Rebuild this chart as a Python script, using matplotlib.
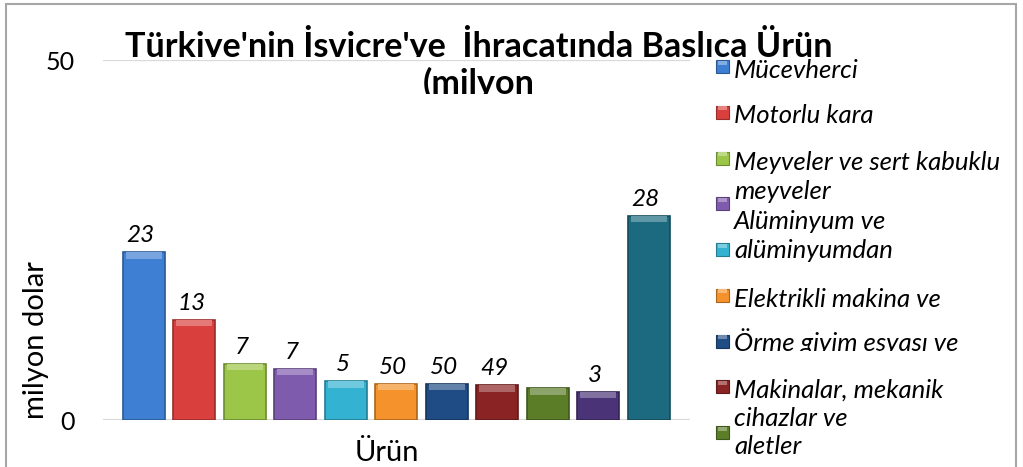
import numpy as np
import matplotlib
matplotlib.use("Agg")
import matplotlib.pyplot as plt
from matplotlib.patches import Rectangle
from matplotlib.transforms import Bbox, TransformedBbox
import matplotlib.colors as mcolors

# ---------------- data ----------------
values = [23.3, 13.9, 7.8, 7.1, 5.4, 5.05, 5.05, 4.8, 4.4, 3.9, 28.4]
value_labels = ["23", "13", "7", "7", "5", "50", "50", "49", "", "3", "28"]
bar_colors = ["#3E7FD3", "#D9403D", "#9CC647", "#7F5BAE", "#34B2D2", "#F5922B",
              "#1F4C85", "#8A2323", "#5B7D28", "#4A3477", "#1C6A80"]
y_ticks = [0, 50]
y_label = "milyon dolar"
x_label = "Ürün"
title_lines = ["Türkiye'nin İsviçre'ye  İhracatında Başlıca Ürün", "(milyon"]

# legend text lines as they appear (wrapped / overflowing)
legend_lines = ["Mücevherci", "Motorlu kara", "Meyveler ve sert kabuklu", "meyveler",
                "Alüminyum ve", "alüminyumdan", "Elektrikli makina ve",
                "Örme giyim eşyası ve", "Makinalar, mekanik", "cihazlar ve", "aletler"]
legend_marker_colors = bar_colors[:9]

# ---------------- layout ----------------
W, H = 1023, 467
plt.rcParams['font.family'] = ['Lato', 'DejaVu Sans']
fig = plt.figure(figsize=(W / 100, H / 100), dpi=100)
fig.patch.set_facecolor("white")

def fx(px):
    return px / W

def fy(py):
    return 1 - py / H

ax_left, ax_right, ax_top, ax_bottom = 103, 690, 60, 420
ax = fig.add_axes([fx(ax_left), fy(ax_bottom), fx(ax_right - ax_left), (ax_bottom - ax_top) / H])
ax.set_facecolor("none")
for s in ax.spines.values():
    s.set_visible(False)

x = np.arange(len(values))
bar_w = 0.83
ax.set_xlim(-0.81, 10.82)
ax.set_ylim(0, 50)
ax.set_yticks(y_ticks)
ax.set_yticklabels([str(t) for t in y_ticks], fontsize=18, color="#000000")
ax.tick_params(axis="y", length=0, pad=20.5)
ax.set_xticks([])
ax.yaxis.grid(True, color="#D9D9D9", linewidth=1.6)
ax.set_axisbelow(True)

def shade(c, f):
    r, g, b = mcolors.to_rgb(c)
    return (r * f, g * f, b * f)

def tint(c, f):
    r, g, b = mcolors.to_rgb(c)
    return (r + (1 - r) * f, g + (1 - g) * f, b + (1 - b) * f)

edge_cols = [shade(c, 0.7) for c in bar_colors]
ax.bar(x, values, width=bar_w, color=bar_colors, edgecolor=edge_cols, linewidth=1.2, zorder=3)
bevel = 0.9
ax.bar(x, [bevel] * len(values), bottom=np.array(values) - bevel, width=bar_w * 0.86,
       color=[tint(c, 0.3) for c in bar_colors], linewidth=0, zorder=4)

for xi, v, lab in zip(x, values, value_labels):
    if lab:
        ax.annotate(lab, (xi, v), xytext=(-3, 10), textcoords="offset pixels",
                    ha="center", va="baseline", fontsize=17.5, style="italic", color="#000000")

# axis titles
fig.text(fx(36), fy(340), y_label, rotation=90, ha="center", va="center", fontsize=21)
fig.text(fx(387), fy(461), x_label, ha="center", va="baseline", fontsize=21)

# title (lines clipped at their baseline as in the reference)
title_baselines = [57, 94]
for line, base in zip(title_lines, title_baselines):
    t = fig.text(fx(479), fy(base), line, ha="center", va="baseline", fontsize=24.6,
                 fontweight="bold", color="#000000")
    t.set_clip_box(TransformedBbox(Bbox.from_extents(0, fy(base), 1, 1), fig.transFigure))
    t.set_clip_on(True)

# legend
marker_x0, marker_size = 716, 13
for i, c in enumerate(legend_marker_colors):
    cy = 66.7 + i * 45.75
    r = Rectangle((fx(marker_x0), fy(cy + marker_size / 2)), marker_size / W, marker_size / H,
                  transform=fig.transFigure, facecolor=c, edgecolor=shade(c, 0.7),
                  linewidth=0.8)
    fig.add_artist(r)
    r2 = Rectangle((fx(marker_x0 + 2), fy(cy - 2)), (marker_size - 4) / W, 4 / H,
                   transform=fig.transFigure, facecolor=tint(c, 0.35), linewidth=0)
    fig.add_artist(r2)

legend_baselines = [78, 123, 170, 199, 229, 258, 307, 351, 398, 426, 454]
clipped_lines = {7}
for j, (line, base) in enumerate(zip(legend_lines, legend_baselines)):
    t = fig.text(fx(734), fy(base), line, ha="left", va="baseline", fontsize=18.5,
                 style="italic", color="#000000")
    if j in clipped_lines:
        t.set_clip_box(TransformedBbox(Bbox.from_extents(0, fy(base), 1, 1), fig.transFigure))
        t.set_clip_on(True)

# outer frame
frame = Rectangle((fx(6), fy(H + 10)), fx(1016 - 6), (H + 10 - 4.5) / H,
                  transform=fig.transFigure, facecolor="none", edgecolor="#A6A6A6",
                  linewidth=1.5, clip_on=False)
fig.add_artist(frame)

fig.savefig("out.png", dpi=100, facecolor="white")
